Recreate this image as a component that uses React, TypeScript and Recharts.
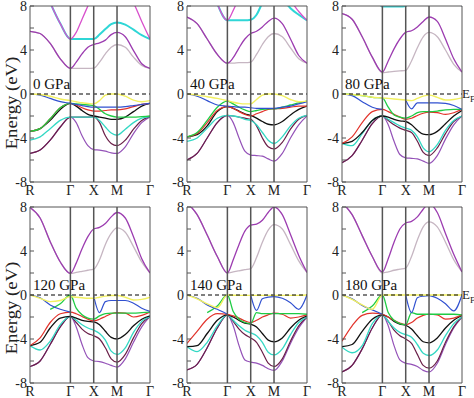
import React from 'react';
import { LineChart, Line, XAxis, YAxis, ReferenceLine } from 'recharts';

// k-path sample points (R-Γ-X-M-Γ of a simple cubic zone, units of 2π/a)
const K = [0, 0.2165, 0.433, 0.6495, 0.866, 0.991, 1.116, 1.241, 1.366, 1.491, 1.616, 1.741, 1.866, 2.043, 2.219, 2.396, 2.573];
const K_TICKS = [0, 0.866, 1.366, 1.866, 2.573];
const K_LABELS = ['R', 'Γ', 'X', 'M', 'Γ'];
const E_TICKS = [-8, -6, -4, -2, 0, 2, 4, 6, 8];
const PRESSURES = ['0 GPa', '40 GPa', '80 GPa', '120 GPa', '140 GPa', '180 GPa'];

const bands0 = {
  cyanC: [12, 10.5, 8.3, 6.4, 5.0, 5.0, 5.0, 5.0, 5.0, 5.4, 5.9, 6.35, 6.5, 6.3, 5.85, 5.35, 5.0],
  pink: [12, 10.5, 8.3, 6.4, 5.0, 5.6, 6.8, 8.0, 9.2, 10, 11, 11, 11, 9.6, 8.3, 6.6, 5.0],
  gray: [5.7, 5.5, 4.6, 3.2, 2.33, 2.33, 2.33, 2.33, 2.35, 2.9, 3.65, 4.25, 4.5, 4.25, 3.35, 2.6, 2.33],
  purple: [5.7, 5.5, 4.6, 3.2, 2.33, 2.9, 3.65, 4.25, 4.5, 4.65, 4.9, 5.4, 5.6, 5.2, 3.95, 2.75, 2.33],
  violet: [-5.4, -5.1, -4.2, -3.0, -2.1, -2.6, -3.8, -4.7, -5.05, -5.1, -5.2, -5.35, -5.4, -4.8, -3.6, -2.6, -2.1],
  maroon: [-5.4, -5.1, -4.2, -3.0, -2.1, -2.1, -2.1, -2.1, -2.05, -2.6, -3.8, -4.5, -4.7, -4.2, -3.2, -2.4, -2.05],
  turq: [-4.2, -3.9, -3.15, -2.4, -2.1, -2.1, -2.1, -2.1, -2.1, -2.4, -3.0, -3.55, -3.75, -3.2, -2.6, -2.2, -2.05],
  black: [-3.4, -3.15, -2.4, -1.4, -0.85, -1.1, -1.5, -1.85, -2.0, -2.1, -2.2, -2.3, -2.3, -2.1, -1.6, -1.1, -0.85],
  red: [-3.4, -3.15, -2.25, -1.25, -0.85, -1.0, -1.25, -1.45, -1.55, -1.55, -1.5, -1.45, -1.45, -1.35, -1.15, -0.95, -0.85],
  green: [-3.4, -3.15, -2.25, -1.25, -0.85, -0.9, -0.95, -1.0, -1.05, -1.4, -1.8, -2.0, -2.1, -2.1, -2.1, -2.05, -2.0],
  blue: [0, -0.1, -0.4, -0.7, -0.85, -0.95, -1.05, -1.15, -1.2, -1.2, -1.2, -1.2, -1.2, -1.15, -1.05, -0.95, -0.85],
  yellow: [0, -0.05, -0.2, -0.45, -0.6, -0.7, -0.8, -0.85, -0.9, -0.6, -0.1, 0, 0, -0.2, -0.55, -0.7, -0.6],
};

const bands40 = {
  cyanC: [12, 12, 11, 8.2, 6.7, 6.7, 6.7, 6.7, 6.75, 7.2, 8.3, 9.3, 9.8, 8.7, 7.8, 7.2, 6.7],
  pink: [12, 12, 11, 8.2, 6.7, 7.6, 8.8, 10, 11, 12, 12, 12, 12, 10.5, 8.6, 7.5, 6.7],
  gray: [7.0, 6.4, 5.0, 3.6, 2.8, 2.8, 2.85, 2.85, 2.9, 3.6, 4.5, 5.2, 5.5, 5.2, 4.2, 3.2, 2.8],
  purple: [7.0, 6.4, 5.0, 3.6, 2.8, 3.3, 4.2, 5.0, 5.5, 5.7, 6.1, 6.6, 6.9, 6.4, 5.0, 3.5, 2.8],
  violet: [-6.0, -5.4, -4.0, -2.6, -1.95, -2.6, -4.0, -5.2, -5.55, -5.6, -5.65, -5.9, -6.1, -5.4, -4.0, -2.8, -2.0],
  maroon: [-6.0, -5.4, -4.0, -2.6, -1.95, -2.0, -2.1, -2.2, -2.3, -2.9, -4.0, -4.8, -5.0, -4.4, -3.2, -2.3, -1.95],
  turq: [-4.3, -4.0, -3.1, -2.2, -1.95, -2.0, -2.1, -2.3, -2.4, -2.8, -3.5, -4.2, -4.5, -3.9, -2.9, -2.2, -1.95],
  black: [-3.9, -3.7, -2.9, -1.6, -1.15, -1.3, -1.55, -1.8, -1.95, -2.2, -2.5, -2.75, -2.8, -2.5, -1.9, -1.4, -1.1],
  red: [-3.9, -3.6, -2.6, -1.5, -1.15, -1.3, -1.6, -1.85, -2.0, -1.8, -1.6, -1.4, -1.35, -1.3, -1.2, -1.1, -1.1],
  green: [-3.9, -3.5, -2.4, -1.2, -0.65, -0.9, -1.2, -1.45, -1.6, -1.5, -1.4, -1.35, -1.35, -1.2, -1.0, -0.8, -0.65],
  blue: [0, -0.2, -0.6, -1.0, -1.1, -1.15, -1.2, -1.2, -1.25, -1.3, -1.3, -1.3, -1.3, -1.2, -1.1, -0.9, -0.7],
  yellow: [0, -0.1, -0.25, -0.4, -0.6, -0.75, -0.85, -0.9, -0.9, -0.5, -0.1, 0, 0, -0.15, -0.5, -0.7, -0.65],
};

const bands80 = {
  cyanC: [12, 12, 11, 9.5, 7.95, 7.95, 7.95, 7.95, 8.0, 9, 10, 11, 11, 11, 10, 9, 8.0],
  pink: [12, 12, 11, 9.5, 8.0, 9, 10, 11, 12, 12, 12, 12, 12, 12, 10, 9, 8.0],
  gray: [7.3, 6.8, 5.2, 3.35, 1.93, 2.0, 2.05, 2.1, 2.15, 3.0, 4.2, 5.2, 5.6, 5.2, 4.0, 2.7, 2.0],
  purple: [7.3, 6.8, 5.2, 3.35, 2.0, 3.0, 4.1, 5.0, 5.6, 5.75, 6.1, 6.6, 7.0, 6.6, 5.0, 3.2, 2.0],
  violet: [-6.25, -5.6, -4.2, -2.7, -2.0, -2.8, -4.3, -5.5, -5.8, -5.85, -5.9, -6.1, -6.3, -5.6, -4.1, -2.8, -2.0],
  maroon: [-6.25, -5.6, -4.2, -2.7, -2.0, -2.4, -2.8, -3.1, -3.3, -3.5, -4.3, -5.3, -5.6, -4.9, -3.6, -2.5, -2.0],
  turq: [-4.5, -4.7, -3.6, -2.4, -2.0, -2.3, -2.6, -2.9, -3.1, -3.3, -3.9, -4.9, -5.25, -4.6, -3.3, -2.4, -2.0],
  black: [-4.5, -4.3, -3.5, -2.4, -2.0, -2.1, -2.3, -2.45, -2.5, -2.8, -3.3, -3.65, -3.7, -3.4, -2.7, -2.0, -1.5],
  red: [-4.5, -3.9, -2.6, -1.6, -1.4, -1.6, -1.85, -2.1, -2.3, -2.2, -1.95, -1.75, -1.65, -1.7, -1.85, -1.7, -1.4],
  green: [0, -0.05, -0.15, -0.3, -0.35, -1.2, -1.9, -2.1, -2.2, -2.0, -1.7, -1.6, -1.6, -1.55, -1.45, -1.4, -1.4],
  blue: [0, -0.15, -0.7, -1.2, -1.4, null, null, null, -0.55, -1.35, -0.8, -0.8, -0.8, -0.8, -0.85, -1.05, -1.4],
  yellow: [0, -0.05, -0.15, -0.3, -0.35, -0.4, -0.45, -0.5, -0.55, -0.6, -0.4, -0.2, -0.1, -0.3, -0.55, -0.5, -0.35],
};

const bands120 = {
  pink: [12, 12, 11, 9.2, 8.0, 9.2, 11, 12, 12, 12, 12, 12, 12, 12, 11, 9.2, 8.0],
  gray: [7.95, 7.0, 4.85, 3.0, 1.97, 2.05, 2.15, 2.25, 2.35, 3.2, 4.6, 5.6, 6.1, 5.7, 4.4, 3.0, 2.0],
  purple: [7.95, 7.0, 4.85, 3.0, 1.97, 2.9, 4.2, 5.3, 6.0, 6.15, 6.5, 7.1, 7.5, 7.0, 5.3, 3.3, 2.0],
  violet: [-6.5, -6.0, -4.5, -2.9, -1.95, -2.9, -4.5, -5.7, -6.0, -6.05, -6.2, -6.4, -6.55, -5.8, -4.3, -2.9, -1.95],
  maroon: [-6.5, -6.0, -4.5, -2.9, -1.95, -2.5, -3.1, -3.5, -3.7, -4.0, -4.8, -5.8, -6.1, -5.4, -3.9, -2.6, -1.95],
  turq: [-4.6, -5.0, -4.2, -2.7, -1.95, -2.3, -2.7, -3.0, -3.2, -3.5, -4.1, -5.1, -5.4, -4.8, -3.4, -2.4, -1.95],
  black: [-4.6, -4.3, -3.0, -2.1, -1.95, -2.1, -2.3, -2.4, -2.45, -2.7, -3.3, -3.85, -4.0, -3.6, -2.8, -2.2, -1.9],
  red: [-4.6, -3.9, -2.5, -1.7, -1.55, -1.7, -1.95, -2.2, -2.35, -2.2, -1.95, -1.7, -1.6, -1.65, -2.0, -1.85, -1.55],
  green: [null, null, -1.3, -0.8, 0, -1.2, -1.8, -2.1, -2.2, -1.9, -1.7, -1.65, -1.65, -1.65, -1.65, -1.6, -1.55],
  blue: [0, -0.25, -0.9, -1.3, -1.55, null, null, null, -0.1, -1.6, -0.6, -0.5, -0.5, -0.5, -0.75, -1.2, -1.5],
  yellow: [0, -0.3, -0.6, -0.5, -0.15, -0.2, -0.25, -0.3, -0.3, -0.2, -0.1, -0.05, -0.05, -0.2, -0.45, -0.4, -0.2],
};

const bands140 = {
  pink: [12, 12, 11, 9.2, 8.0, 9.2, 11, 12, 12, 12, 12, 12, 12, 12, 11, 9.2, 8.0],
  gray: [8.4, 7.3, 5.45, 3.5, 2.0, 2.1, 2.2, 2.3, 2.4, 3.4, 4.8, 5.9, 6.4, 6.0, 4.6, 3.1, 2.05],
  purple: [8.4, 7.3, 5.45, 3.5, 2.0, 3.2, 4.6, 5.8, 6.35, 6.45, 6.8, 7.5, 8.0, 7.3, 5.5, 3.6, 2.05],
  violet: [-6.8, -6.3, -4.8, -3.0, -1.8, -2.8, -4.6, -5.9, -6.1, -6.2, -6.4, -6.7, -6.85, -6.0, -4.4, -3.0, -2.0],
  maroon: [-6.8, -6.3, -4.8, -3.0, -1.8, -2.4, -3.1, -3.6, -3.9, -4.3, -5.2, -6.2, -6.5, -5.8, -4.2, -2.8, -2.0],
  turq: [-4.7, -5.15, -4.3, -2.8, -1.8, -2.3, -2.8, -3.2, -3.45, -3.7, -4.3, -5.2, -5.45, -4.9, -3.6, -2.5, -2.0],
  black: [-4.7, -4.6, -3.5, -2.3, -1.8, -2.0, -2.3, -2.55, -2.65, -2.9, -3.5, -4.1, -4.25, -3.9, -3.0, -2.3, -1.9],
  red: [-4.4, -3.3, -2.2, -1.7, -1.75, -1.9, -2.1, -2.35, -2.5, -2.3, -2.0, -1.8, -1.65, -1.75, -2.1, -2.0, -1.8],
  green: [null, null, -1.6, -1.0, 0, -1.5, -2.2, -2.5, -2.6, -1.6, -1.7, -1.7, -1.7, -1.7, -1.7, -1.7, -1.75],
  blue: [0, -0.3, -0.9, -1.3, -1.75, null, null, null, 0, -1.4, -0.35, -0.2, -0.15, -0.3, -0.7, -1.3, 0],
  yellow: [0, -0.35, -0.8, -1.15, 0, -0.02, -0.03, -0.03, -0.03, -0.03, -0.03, -0.03, -0.03, -0.03, -0.03, -0.03, 0],
};

const bands180 = {
  pink: [12, 12, 11, 9.2, 8.0, 9.2, 11, 12, 12, 12, 12, 12, 12, 12, 11, 9.2, 8.0],
  gray: [8.4, 7.3, 5.4, 3.5, 2.0, 2.1, 2.25, 2.35, 2.45, 3.5, 5.0, 6.2, 6.65, 6.2, 4.8, 3.2, 2.1],
  purple: [8.4, 7.3, 5.4, 3.5, 2.1, 3.3, 4.8, 6.0, 6.55, 6.7, 7.1, 7.8, 8.3, 7.5, 5.6, 3.7, 2.1],
  violet: [-7.0, -6.4, -4.9, -3.0, -1.8, -2.8, -4.6, -5.9, -6.2, -6.3, -6.5, -6.85, -7.0, -6.2, -4.5, -3.0, -2.0],
  maroon: [-7.0, -6.4, -4.9, -3.0, -1.8, -2.4, -3.2, -3.7, -4.0, -4.4, -5.4, -6.4, -6.65, -6.0, -4.3, -2.9, -2.0],
  turq: [-4.75, -5.25, -4.6, -2.6, -1.8, -2.4, -3.0, -3.4, -3.6, -3.85, -4.5, -5.3, -5.5, -5.0, -3.7, -2.6, -2.0],
  black: [-4.7, -4.5, -3.3, -2.2, -1.8, -2.0, -2.4, -2.65, -2.75, -3.1, -3.7, -4.25, -4.35, -3.9, -3.0, -2.3, -1.85],
  red: [-4.2, -2.8, -1.85, -1.65, -1.75, -2.0, -2.3, -2.55, -2.7, -2.5, -2.1, -1.85, -1.75, -1.8, -2.2, -2.1, -1.8],
  green: [null, null, -1.6, -1.0, 0, -1.6, -2.3, -2.6, -2.7, -1.6, -1.75, -1.75, -1.75, -1.75, -1.75, -1.75, -1.8],
  blue: [0, -0.35, -0.95, -1.35, -1.75, null, null, null, 0, -1.6, -0.25, -0.1, -0.05, -0.3, -0.8, -1.45, 0],
  yellow: [0, -0.4, -0.9, -1.3, 0, 0, 0, 0, 0, 0, 0, 0, 0, 0, 0, 0, 0],
};

const PANEL_BANDS = [bands0, bands40, bands80, bands120, bands140, bands180];

// drawing order, colour, width
const BAND_STYLE: [string, string, number][] = [
  ['cyanC', '#2fd6d6', 2],
  ['pink', '#d850cc', 1.3],
  ['gray', '#c6b6c2', 1.3],
  ['purple', '#9c3cb0', 1.3],
  ['violet', '#9452b8', 1.2],
  ['maroon', '#6a1f48', 1.2],
  ['turq', '#34d8c4', 1.3],
  ['black', '#111111', 1.3],
  ['red', '#e2322a', 1.2],
  ['green', '#1fcc44', 1.3],
  ['blue', '#3050d0', 1.2],
  ['yellow', '#f2f060', 1.4],
];

const COL_X = [30, 187, 342];
const ROW_Y = [6, 207];
const LABEL_MID = [103, 308];
const PLOT_W = 120;
const PLOT_H = 176;
const Y_W = 28;
const M_TOP = 8;
const M_RIGHT = 14;
const X_H = 18;
const FONT = 'Liberation Serif, serif';
const FRAME = '#555';

const Panel = ({ idx }: { idx: number }) => {
  const bands: any = PANEL_BANDS[idx];
  const data = K.map((k, i) => {
    const row: any = { k };
    Object.keys(bands).forEach((key) => { row[key] = bands[key][i]; });
    return row;
  });
  const col = idx % 3;
  const row = Math.floor(idx / 3);
  const left = COL_X[col];
  const top = ROW_Y[row];
  const tickStyle = { fontFamily: FONT, fontSize: 14, fill: '#222' };

  return (
    <div style={{ position: 'absolute', left: left - Y_W, top: top - M_TOP }}>
      <LineChart
        width={Y_W + PLOT_W + M_RIGHT}
        height={M_TOP + PLOT_H + X_H}
        data={data}
        margin={{ top: M_TOP, right: M_RIGHT, bottom: 0, left: 0 }}
        style={{ fontFamily: FONT }}
      >
        <XAxis
          dataKey="k"
          type="number"
          domain={[0, K_TICKS[4]]}
          ticks={K_TICKS}
          interval={0}
          tickFormatter={(v: number) => K_LABELS[K_TICKS.indexOf(v)]}
          tick={tickStyle}
          tickLine={false}
          tickSize={0}
          tickMargin={3}
          height={X_H}
          stroke={FRAME}
          allowDataOverflow
        />
        <YAxis
          type="number"
          domain={[-8, 8]}
          ticks={E_TICKS}
          interval={0}
          tickFormatter={(v: number) => (v % 4 === 0 ? String(v) : '')}
          tick={tickStyle}
          tickSize={-4}
          tickMargin={7}
          width={Y_W}
          stroke={FRAME}
          allowDataOverflow
        />
        {BAND_STYLE.filter(([key]) => bands[key]).map(([key, color, w]) => (
          <Line
            key={key}
            dataKey={key}
            type="monotone"
            stroke={color}
            strokeWidth={w}
            dot={false}
            activeDot={false}
            connectNulls={false}
            isAnimationActive={false}
          />
        ))}
        <ReferenceLine y={0} stroke="#000" strokeDasharray="4 3" strokeWidth={1} />
        {K_TICKS.slice(1, 4).map((k) => (
          <ReferenceLine key={k} x={k} stroke={FRAME} strokeWidth={1.5} />
        ))}
        <ReferenceLine x={K_TICKS[4]} stroke={FRAME} strokeWidth={1} />
        <ReferenceLine y={8} stroke={FRAME} strokeWidth={1} />
      </LineChart>
      <div
        style={{
          position: 'absolute',
          left: Y_W + 3,
          top: M_TOP + 71,
          fontFamily: FONT,
          fontSize: 15,
          lineHeight: '15px',
          color: '#111',
          whiteSpace: 'nowrap',
        }}
      >
        {PRESSURES[idx]}
      </div>
    </div>
  );
};

const App = () => {
  return (
    <div style={{ position: 'absolute', left: 0, top: 0, width: 474, height: 398, background: '#fff', overflow: 'hidden' }}>
      {PANEL_BANDS.map((_, i) => (
        <Panel key={i} idx={i} />
      ))}
      {LABEL_MID.map((y) => (
        <div
          key={y}
          style={{
            position: 'absolute',
            left: 12 - 50,
            top: y - 10,
            width: 100,
            height: 20,
            textAlign: 'center',
            fontFamily: FONT,
            fontSize: 17,
            lineHeight: '20px',
            color: '#222',
            transform: 'rotate(-90deg) scaleX(1.1)',
            whiteSpace: 'nowrap',
          }}
        >
          Energy (eV)
        </div>
      ))}
      {ROW_Y.map((y) => (
        <div
          key={'ef' + y}
          style={{ position: 'absolute', left: 462, top: y + 80, fontFamily: FONT, fontSize: 13, lineHeight: '15px', color: '#222', whiteSpace: 'nowrap' }}
        >
          E<span style={{ fontSize: 9, position: 'relative', top: 4 }}>F</span>
        </div>
      ))}
    </div>
  );
};

export default App;
